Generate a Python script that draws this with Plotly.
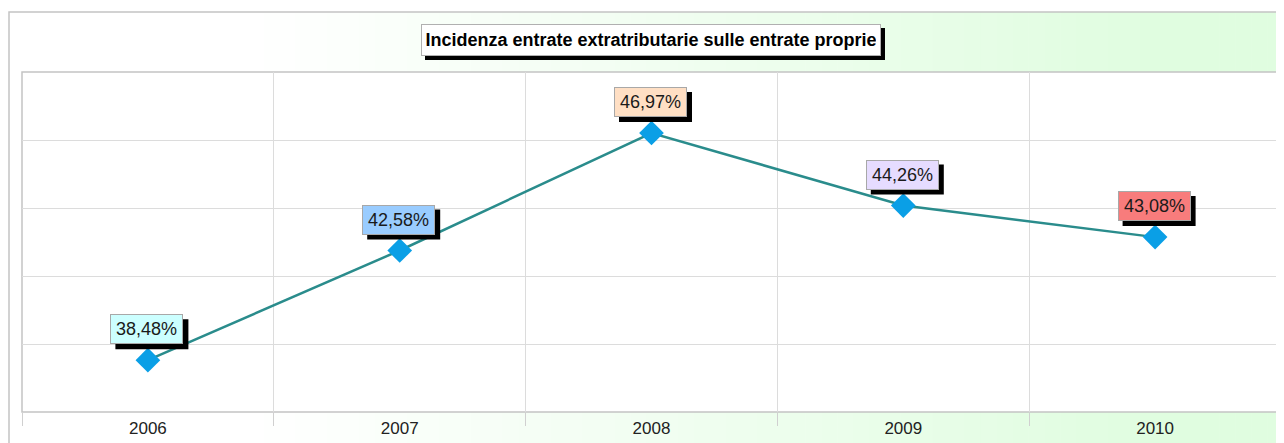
import plotly.graph_objects as go

years = ["2006", "2007", "2008", "2009", "2010"]
values = [38.48, 42.58, 46.97, 44.26, 43.08]
labels = ["38,48%", "42,58%", "46,97%", "44,26%", "43,08%"]
label_colors = ["#ccffff", "#99ccff", "#ffdfc4", "#e6dcff", "#f87c7c"]
title_text = "Incidenza entrate extratributarie sulle entrate proprie"

FONT = "Arial, 'Liberation Sans', sans-serif"
OFF = 8  # page body margin
W, H = 1284 - OFF, 443 - OFF
ML, MR, MT, MB = 22 - OFF, 3, 72 - OFF, 31
PW, PH = W - ML - MR, H - MT - MB


def px_x(p):  # reference-page x pixel -> paper coord
    return (p - OFF - ML) / PW


def px_y(p):  # reference-page y pixel -> paper coord
    return (H - MB - (p - OFF)) / PH


fig = go.Figure()
fig.add_trace(go.Scatter(
    x=years, y=values, mode="lines+markers",
    line=dict(color="#2a8c8c", width=2.5),
    marker=dict(symbol="diamond", size=19, color="#0a9fe6"),
    hoverinfo="skip", showlegend=False,
))

shapes = []
# background gradient strips (white on left -> light green on right)
x_start, x_end = 9, 1283
n = 80
c0 = (255, 255, 255)
c1 = (224, 253, 224)
for i in range(n):
    a = x_start + (x_end - x_start) * i / n
    b = x_start + (x_end - x_start) * (i + 1) / n
    mid = (a + b) / 2
    t = min(max((mid - 250) / 900, 0), 1)
    col = tuple(round(c0[k] + (c1[k] - c0[k]) * t) for k in range(3))
    shapes.append(dict(type="rect", xref="paper", yref="paper", layer="below",
                       x0=px_x(a), x1=px_x(b + 0.6), y0=px_y(470), y1=px_y(12),
                       line=dict(width=0), fillcolor="rgb(%d,%d,%d)" % col))
# outer frame
shapes.append(dict(type="rect", xref="paper", yref="paper", layer="below",
                   x0=px_x(9), x1=px_x(1283), y0=px_y(470), y1=px_y(12),
                   line=dict(color="#c4c4c4", width=1.5), fillcolor="rgba(0,0,0,0)"))
# plot area
shapes.append(dict(type="rect", xref="paper", yref="paper", layer="below",
                   x0=0, x1=1, y0=0, y1=1,
                   line=dict(color="#c4c4c4", width=1.5), fillcolor="white"))

# title shadow (pixel-sized, anchored at the title centre)
TITLE_X, TITLE_Y = px_x(651), px_y(40)
shapes.append(dict(type="rect", xref="paper", yref="paper", layer="above",
                   xsizemode="pixel", ysizemode="pixel",
                   xanchor=TITLE_X, yanchor=TITLE_Y,
                   x0=-226, x1=234, y0=-20, y1=12,
                   line=dict(width=0), fillcolor="black"))
# value label shadows (pixel-sized, anchored at each data point)
for i, v in enumerate(values):
    shapes.append(dict(type="rect", xref="x", yref="y", layer="above",
                       xsizemode="pixel", ysizemode="pixel",
                       xanchor=i, yanchor=v,
                       x0=-32.5, x1=40.5, y0=11, y1=41,
                       line=dict(width=0), fillcolor="black"))

annotations = []
annotations.append(dict(
    text="<b>%s</b>" % title_text, x=TITLE_X, y=TITLE_Y,
    xref="paper", yref="paper", showarrow=False,
    xanchor="center", yanchor="middle",
    font=dict(family=FONT, size=18, color="black"),
    bgcolor="white", bordercolor="#b0b0b0", borderwidth=1, borderpad=4,
    width=450, height=22,
))
for i, (v, lab, col) in enumerate(zip(values, labels, label_colors)):
    annotations.append(dict(
        text=lab, x=i, y=v, xref="x", yref="y", showarrow=False,
        xanchor="center", yanchor="bottom", xshift=-1, yshift=16,
        font=dict(family=FONT, size=18, color="#1a1a1a"),
        bgcolor=col, bordercolor="#a8a8a8", borderwidth=1, borderpad=4,
        width=63, height=20,
    ))

fig.update_layout(
    width=W, height=H,
    margin=dict(l=ML, r=MR, t=MT, b=MB),
    paper_bgcolor="white", plot_bgcolor="white",
    shapes=shapes, annotations=annotations,
    xaxis=dict(type="category", categoryorder="array", categoryarray=years,
               range=[-0.5, 4.5], tickson="boundaries",
               showgrid=True, gridcolor="#dcdcdc", gridwidth=1,
               ticks="outside", ticklen=13, tickcolor="#d0d0d0", tickwidth=1,
               ticklabelstandoff=4,
               tickfont=dict(family=FONT, size=17, color="#222222"),
               showline=False, zeroline=False, fixedrange=True),
    yaxis=dict(range=[36.545, 49.25], tick0=36.545, dtick=2.541,
               showgrid=True, gridcolor="#dcdcdc", gridwidth=1,
               showticklabels=False, ticks="", zeroline=False, showline=False,
               fixedrange=True),
    showlegend=False,
)

fig.write_html("out.html", config={"displayModeBar": False})
